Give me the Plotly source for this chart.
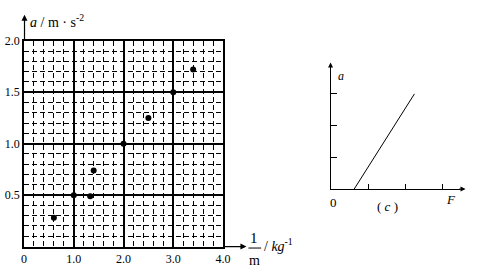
import plotly.graph_objects as go

# Data (left chart: a vs 1/m)
inv_m = [0.6, 1.0, 1.33, 1.4, 2.0, 2.5, 3.0, 3.4]
accel = [0.28, 0.5, 0.49, 0.74, 1.0, 1.25, 1.5, 1.72]
x_ticks = [0, 1, 2, 3, 4]
x_ticktext = ["0", "1.0", "2.0", "3.0", "4.0"]
y_ticks = [0.5, 1.0, 1.5, 2.0]
y_ticktext = ["0.5", "1.0", "1.5", "2.0"]

# Data (right chart (c): a vs F line)
F_line = [0.63, 2.24]
a_line = [0, 3]
c_ticks = [1, 2, 3]

W, H = 495, 268
def px(x):
    return x / W
def py(y):
    return 1 - y / H

FONT = "Liberation Serif"

fig = go.Figure()
fig.add_trace(go.Scatter(x=inv_m, y=accel, mode="markers",
                         marker=dict(color="black", size=6),
                         xaxis="x", yaxis="y", showlegend=False, cliponaxis=False))
fig.add_trace(go.Scatter(x=F_line, y=a_line, mode="lines",
                         line=dict(color="black", width=1),
                         xaxis="x2", yaxis="y2", showlegend=False))

fig.update_layout(
    width=W, height=H,
    margin=dict(l=0, r=0, t=0, b=0),
    paper_bgcolor="white", plot_bgcolor="white",
    font=dict(family=FONT, size=11, color="black"),
    xaxis=dict(domain=[px(21.5), px(225)], range=[0, 4], tickvals=x_ticks, ticktext=x_ticktext,
               showgrid=True, gridcolor="black", gridwidth=1.5, zeroline=False,
               showline=True, linecolor="black", linewidth=1.5, mirror=True,
               ticks="", tickfont=dict(family=FONT, size=12, color="black"),
               minor=dict(dtick=0.2, tick0=0, showgrid=True, gridcolor="black", gridwidth=1, griddash="5px,3px"),
               fixedrange=True),
    yaxis=dict(domain=[py(246), py(34.7)], range=[0, 2], tickvals=y_ticks, ticktext=y_ticktext,
               showgrid=True, gridcolor="black", gridwidth=1.5, zeroline=False,
               showline=True, linecolor="black", linewidth=1.5, mirror=True,
               ticks="", tickfont=dict(family=FONT, size=12, color="black"),
               minor=dict(dtick=0.1, tick0=0, showgrid=True, gridcolor="black", gridwidth=1, griddash="5px,3px"),
               fixedrange=True),
    xaxis2=dict(domain=[px(335), px(467)], range=[0, (467 - 335) / 38.3], tickvals=c_ticks,
                showticklabels=False, ticks="inside", ticklen=5, tickcolor="black",
                showgrid=False, zeroline=False, showline=True, linecolor="black", linewidth=1,
                anchor="y2", fixedrange=True),
    yaxis2=dict(domain=[py(187), py(62)], range=[0, (187 - 62) / 32.6], tickvals=c_ticks,
                showticklabels=False, ticks="inside", ticklen=6, tickcolor="black",
                showgrid=False, zeroline=False, showline=True, linecolor="black", linewidth=1,
                anchor="x2", fixedrange=True),
)

ann = []
# axis arrows (left chart)
ann.append(dict(x=px(249), y=py(246), xref="paper", yref="paper", ax=-24, ay=0, text="",
                showarrow=True, arrowhead=2, arrowsize=1, arrowwidth=1.2, arrowcolor="black"))
ann.append(dict(x=px(22), y=py(8), xref="paper", yref="paper", ax=0, ay=27, text="",
                showarrow=True, arrowhead=2, arrowsize=1, arrowwidth=1.2, arrowcolor="black"))
# axis arrows (right chart)
ann.append(dict(x=px(473), y=py(187), xref="paper", yref="paper", ax=-8, ay=0, text="",
                showarrow=True, arrowhead=2, arrowsize=1, arrowwidth=1, arrowcolor="black"))
ann.append(dict(x=px(335), y=py(57), xref="paper", yref="paper", ax=0, ay=7, text="",
                showarrow=True, arrowhead=2, arrowsize=1, arrowwidth=1, arrowcolor="black"))
# left labels
ann.append(dict(x=px(26), y=py(14), xref="paper", yref="paper", xanchor="left", yanchor="middle",
                text="<i>a</i> / m · s<sup>-2</sup>", showarrow=False, font=dict(size=14)))
ann.append(dict(x=px(257), y=py(237), xref="paper", yref="paper", xanchor="center", yanchor="middle",
                text="1", showarrow=False, font=dict(size=15)))
ann.append(dict(x=px(257), y=py(260), xref="paper", yref="paper", xanchor="center", yanchor="middle",
                text="m", showarrow=False, font=dict(size=14)))
ann.append(dict(x=px(265), y=py(244), xref="paper", yref="paper", xanchor="left", yanchor="middle",
                text="/ <i>kg</i><sup>-1</sup>", showarrow=False, font=dict(size=14)))
# right labels
ann.append(dict(x=px(346), y=py(71), xref="paper", yref="paper", xanchor="center", yanchor="middle",
                text="<i>a</i>", showarrow=False, font=dict(size=12)))
ann.append(dict(x=px(338), y=py(201), xref="paper", yref="paper", xanchor="center", yanchor="middle",
                text="0", showarrow=False, font=dict(size=13)))
ann.append(dict(x=px(393), y=py(205), xref="paper", yref="paper", xanchor="center", yanchor="middle",
                text="( <i>c</i> )", showarrow=False, font=dict(size=13)))
ann.append(dict(x=px(458), y=py(198), xref="paper", yref="paper", xanchor="center", yanchor="middle",
                text="<i>F</i>", showarrow=False, font=dict(size=13)))
fig.update_layout(annotations=ann)

fig.add_shape(type="line", xref="paper", yref="paper", x0=px(251), x1=px(264), y0=py(247.5), y1=py(247.5),
              line=dict(color="black", width=1))

fig.write_html("out.html")
